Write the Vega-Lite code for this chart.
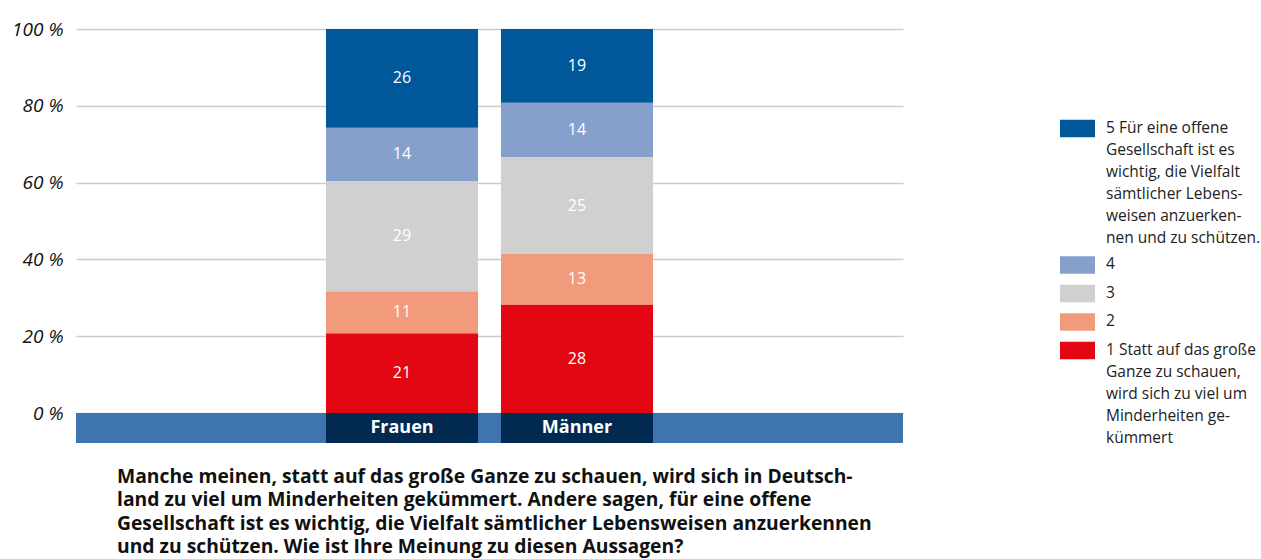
{
  "$schema": "https://vega.github.io/schema/vega-lite/v6.json",
  "autosize": {"type": "none"},
  "width": 827,
  "height": 414,
  "padding": {"left": 76, "top": 29, "right": 358, "bottom": 116},
  "background": "white",
  "config": {
    "font": "Open Sans",
    "view": {"stroke": null}
  },
  "title": {
    "text": [
      "Manche meinen, statt auf das große Ganze zu schauen, wird sich in Deutsch-",
      "land zu viel um Minderheiten gekümmert. Andere sagen, für eine offene",
      "Gesellschaft ist es wichtig, die Vielfalt sämtlicher Lebensweisen anzuerkennen",
      "und zu schützen. Wie ist Ihre Meinung zu diesen Aussagen?"
    ],
    "orient": "bottom",
    "anchor": "start",
    "frame": "group",
    "dx": 41,
    "offset": 22,
    "font": "Open Sans",
    "fontSize": 19.3,
    "fontWeight": "bold",
    "color": "#111111",
    "lineHeight": 23.3,
    "baseline": "top"
  },
  "data": {
    "values": [
      {"sex": "Frauen", "code": 1, "value": 21, "cat": "1 Statt auf das große|Ganze zu schauen,|wird sich zu viel um|Minderheiten ge-|kümmert"},
      {"sex": "Frauen", "code": 2, "value": 11, "cat": "2"},
      {"sex": "Frauen", "code": 3, "value": 29, "cat": "3"},
      {"sex": "Frauen", "code": 4, "value": 14, "cat": "4"},
      {"sex": "Frauen", "code": 5, "value": 26, "cat": "5 Für eine offene|Gesellschaft ist es|wichtig, die Vielfalt|sämtlicher Lebens-|weisen anzuerken-|nen und zu schützen."},
      {"sex": "Männer", "code": 1, "value": 28, "cat": "1 Statt auf das große|Ganze zu schauen,|wird sich zu viel um|Minderheiten ge-|kümmert"},
      {"sex": "Männer", "code": 2, "value": 13, "cat": "2"},
      {"sex": "Männer", "code": 3, "value": 25, "cat": "3"},
      {"sex": "Männer", "code": 4, "value": 14, "cat": "4"},
      {"sex": "Männer", "code": 5, "value": 19, "cat": "5 Für eine offene|Gesellschaft ist es|wichtig, die Vielfalt|sämtlicher Lebens-|weisen anzuerken-|nen und zu schützen."}
    ]
  },
  "encoding": {
    "x": {
      "field": "sex",
      "type": "nominal",
      "axis": null,
      "scale": {"domain": ["_a", "Frauen", "Männer", "_b"], "paddingInner": 0.131, "paddingOuter": 0.4286}
    }
  },
  "layer": [
    {
      "data": {"values": [{"band": 1}]},
      "mark": {"type": "rule", "color": "#3f75ad", "strokeWidth": 30},
      "encoding": {
        "x": null,
        "y": {
          "datum": -0.039,
          "type": "quantitative",
          "scale": {"domain": [-0.078, 1], "nice": false, "zero": false},
          "axis": {
            "values": [0, 0.2, 0.4, 0.6, 0.8, 1],
            "title": null,
            "domain": false,
            "ticks": false,
            "labelExpr": "round(datum.value * 100) + ' %'",
            "labelFont": "Open Sans",
            "labelFontSize": 19,
            "labelFontStyle": "italic",
            "labelColor": "#111111",
            "labelPadding": 13,
            "grid": true,
            "gridColor": "#cccccc",
            "gridWidth": 1.5
          }
        }
      }
    },
    {
      "mark": {"type": "bar"},
      "encoding": {
        "y": {"field": "value", "type": "quantitative", "stack": "normalize"},
        "order": {"field": "code", "type": "quantitative", "sort": "ascending"},
        "color": {
          "field": "cat",
          "type": "nominal",
          "scale": {
            "domain": [
              "5 Für eine offene|Gesellschaft ist es|wichtig, die Vielfalt|sämtlicher Lebens-|weisen anzuerken-|nen und zu schützen.",
              "4", "3", "2",
              "1 Statt auf das große|Ganze zu schauen,|wird sich zu viel um|Minderheiten ge-|kümmert"
            ],
            "range": ["#00579a", "#86a0cc", "#d0d0d0", "#f29a7c", "#e30613"]
          },
          "legend": {
            "title": null,
            "orient": "none",
            "legendX": 984,
            "legendY": 82,
            "symbolType": "M-1,-0.5H1V0.5H-1Z",
            "symbolSize": 1225,
            "symbolStrokeWidth": 0,
            "symbolOpacity": 1,
            "labelExpr": "split(datum.label, '|')",
            "labelFont": "Open Sans",
            "labelFontSize": 15.5,
            "labelColor": "#222222",
            "labelLimit": 300,
            "labelOffset": 11,
            "labelBaseline": "alphabetic",
            "rowPadding": 1.5,
            "encode": {
              "labels": {"update": {"lineHeight": {"value": 22}, "dy": {"value": 4}}}
            }
          }
        }
      }
    },
    {
      "data": {"values": [{"sex": "Frauen"}, {"sex": "Männer"}]},
      "mark": {"type": "bar", "color": "#022a50"},
      "encoding": {
        "y": {"datum": -0.078, "type": "quantitative"},
        "y2": {"datum": 0}
      }
    },
    {
      "data": {"values": [{"sex": "Frauen"}, {"sex": "Männer"}]},
      "mark": {"type": "text", "color": "white", "font": "Open Sans", "fontSize": 18, "fontWeight": "bold", "baseline": "middle"},
      "encoding": {
        "y": {"datum": -0.039, "type": "quantitative"},
        "text": {"field": "sex"}
      }
    },
    {
      "mark": {"type": "text", "color": "white", "font": "Open Sans", "fontSize": 16, "baseline": "middle"},
      "encoding": {
        "y": {"field": "value", "type": "quantitative", "stack": "normalize", "bandPosition": 0.5},
        "order": {"field": "code", "type": "quantitative", "sort": "ascending"},
        "detail": {"field": "code", "type": "nominal"},
        "text": {"field": "value", "type": "quantitative"}
      }
    }
  ]
}
